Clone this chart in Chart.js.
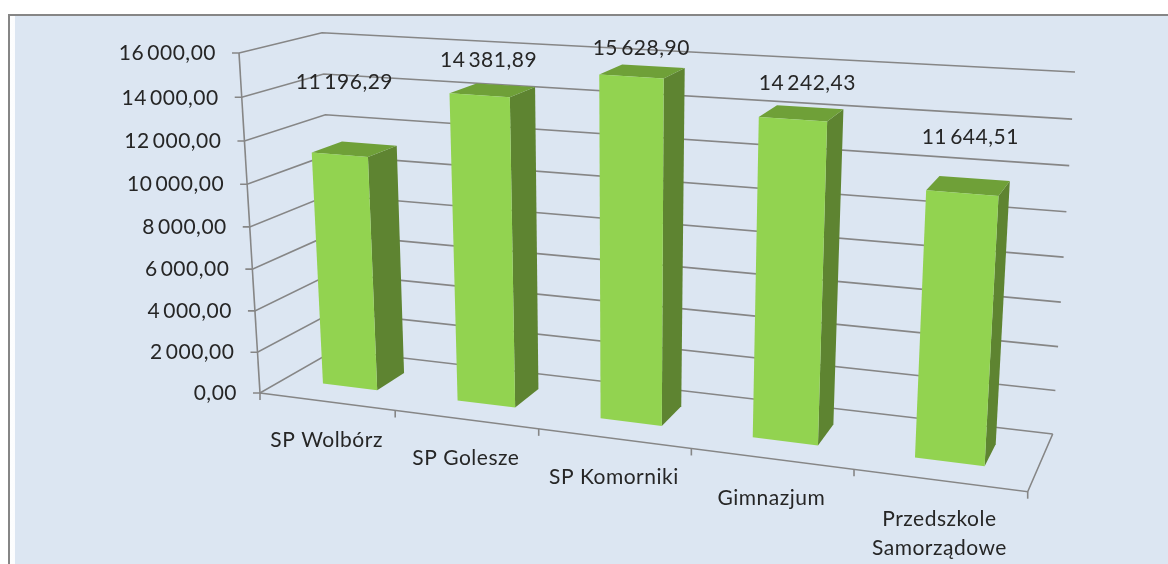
<!DOCTYPE html>
<html><head><meta charset="utf-8">
<style>
html,body{margin:0;padding:0;background:#fff;width:1168px;height:564px;overflow:hidden}
#frame{position:absolute;left:8px;top:14px;width:1160px;height:550px;box-sizing:border-box;border-left:2px solid #868686;border-top:2px solid #868686;background:linear-gradient(90deg,#fdfefe 0,#fbfcfe 5px,#dce6f2 5px)}
#wrap{position:absolute;left:0;top:0;width:1168px;height:564px}
</style>
<script src="https://cdn.jsdelivr.net/npm/chart.js@4"></script>
</head><body>
<div id="frame"></div>
<div id="wrap"><canvas id="c" width="1168" height="564"></canvas></div>
<script>
const categories = ['SP Wolbórz','SP Golesze','SP Komorniki','Gimnazjum',['Przedszkole','Samorządowe']];
const seriesValues = [11196.29,14381.89,15628.90,14242.43,11644.51];
const axisMax = 16000;
const axisStep = 2000;

// Layout of the 3D box on the page (not data)
const BOX = {
  fbl:[260,393], fbr:[1027.7,491.7], bbl:[335,350], bbr:[1052.7,434],
  ftl:[239,53], ftr:[1049.7,103.7], btl:[322,32.7], btr:[1075,72]
};
const PERSP_U = -0.145, PERSP_V = -0.045;
const DEPTH_FRONT = 0.33, DEPTH_BACK = 0.72;
const LABEL_OFFSETS = [[-10,-67],[-4,-30],[-1,-23],[6,-30],[2,-49]];
const FONT = '21px Lato';
const SPACING = '0.5px';
const TEXT = '#262626', LINE = '#868686';
const FACE = '#92d350', SIDE = '#5e8431', TOP = '#6fa038';

const persp = (s,c)=> s*(1+c)/(1+c*s);
const lerp = (a,b,t)=>[a[0]+(b[0]-a[0])*t, a[1]+(b[1]-a[1])*t];
function project(u,w,v){
  const t=persp(u,PERSP_U), g=persp(v,PERSP_V);
  const fb=lerp(BOX.fbl,BOX.fbr,t), bb=lerp(BOX.bbl,BOX.bbr,t);
  const ft=lerp(BOX.ftl,BOX.ftr,t), bt=lerp(BOX.btl,BOX.btr,t);
  return lerp(lerp(fb,bb,w),lerp(ft,bt,w),g);
}
const fmt = n => { const [i,d]=n.toFixed(2).split('.'); return i.replace(/\B(?=(\d{3})+$)/g,'\u2009')+','+d; };
function poly(ctx,pts,fill){ ctx.beginPath(); pts.forEach((p,i)=>i?ctx.lineTo(p[0],p[1]):ctx.moveTo(p[0],p[1])); ctx.closePath(); ctx.fillStyle=fill; ctx.fill(); }
function path(ctx,pts){ ctx.beginPath(); pts.forEach((p,i)=>i?ctx.lineTo(p[0],p[1]):ctx.moveTo(p[0],p[1])); ctx.stroke(); }

const box3d = {
  id:'box3d',
  beforeDatasetsDraw(chart){
    const {ctx,chartArea:a,scales:{x,y}}=chart;
    const vOf=val=>(a.bottom-y.getPixelForValue(val))/(a.bottom-a.top);
    ctx.save();
    ctx.strokeStyle=LINE; ctx.lineWidth=1.6; ctx.lineJoin='miter';
    ctx.fillStyle=TEXT; ctx.font=FONT; ctx.letterSpacing=SPACING; ctx.textBaseline='middle';
    // horizontal grid on side and back walls, y ticks and labels
    y.ticks.forEach(tk=>{
      const v=vOf(tk.value);
      const f=project(0,0,v), bl=project(0,1,v), br=project(1,1,v);
      path(ctx,[[f[0]-7,f[1]],f,bl,br]);
      ctx.textAlign='right';
      ctx.fillText(fmt(tk.value),f[0]-23,f[1]+0.5);
    });
    // axis edges
    path(ctx,[project(0,0,1),project(0,0,0)]);
    path(ctx,[project(0,0,0),project(1,0,0),project(1,1,0)]);
    // category ticks and labels
    const n=categories.length;
    for(let i=0;i<=n;i++){
      const p=project(i/n,0,0);
      path(ctx,[p,[p[0],p[1]+7]]);
    }
    ctx.textAlign='center';
    x.getLabels().forEach((lab,i)=>{
      const u=(x.getPixelForValue(i)-a.left)/(a.right-a.left);
      const p=project(u,0,0);
      (Array.isArray(lab)?lab:[lab]).forEach((ln,k)=>ctx.fillText(ln,p[0],p[1]+39+k*28.5));
    });
    ctx.restore();
  },
  beforeDatasetDraw(){ return false; },
  afterDatasetsDraw(chart){
    const {ctx,chartArea:a,scales:{y}}=chart;
    const meta=chart.getDatasetMeta(0);
    const W=a.right-a.left,H=a.bottom-a.top;
    ctx.save();
    meta.data.forEach((el)=>{
      const u0=(el.x-el.width/2-a.left)/W, u1=(el.x+el.width/2-a.left)/W;
      const v=(a.bottom-el.y)/H, b=(a.bottom-el.base)/H;
      const w0=DEPTH_FRONT,w1=DEPTH_BACK;
      poly(ctx,[project(u1,w0,b),project(u1,w1,b),project(u1,w1,v),project(u1,w0,v)],SIDE);
      poly(ctx,[project(u0,w0,v),project(u1,w0,v),project(u1,w1,v),project(u0,w1,v)],TOP);
      poly(ctx,[project(u0,w0,b),project(u1,w0,b),project(u1,w0,v),project(u0,w0,v)],FACE);
    });
    ctx.fillStyle=TEXT; ctx.font=FONT; ctx.letterSpacing=SPACING; ctx.textAlign='center'; ctx.textBaseline='middle';
    meta.data.forEach((el,i)=>{
      const u=(el.x-a.left)/W, v=(a.bottom-el.y)/H;
      const p=project(u,(DEPTH_FRONT+DEPTH_BACK)/2,v);
      ctx.fillText(fmt(seriesValues[i]),p[0]+LABEL_OFFSETS[i][0],p[1]+LABEL_OFFSETS[i][1]);
    });
    ctx.restore();
  }
};

new Chart(document.getElementById('c'),{
  type:'bar',
  data:{labels:categories,datasets:[{data:seriesValues,backgroundColor:FACE,barPercentage:0.41,categoryPercentage:1}]},
  options:{
    responsive:false,animation:false,
    layout:{padding:0},
    plugins:{legend:{display:false},title:{display:false},tooltip:{enabled:false}},
    scales:{
      x:{display:true,grid:{display:false},border:{display:false},ticks:{display:false}},
      y:{display:true,min:0,max:axisMax,grid:{display:false},border:{display:false},ticks:{display:false,stepSize:axisStep}}
    }
  },
  plugins:[box3d]
});
</script>
</body></html>
